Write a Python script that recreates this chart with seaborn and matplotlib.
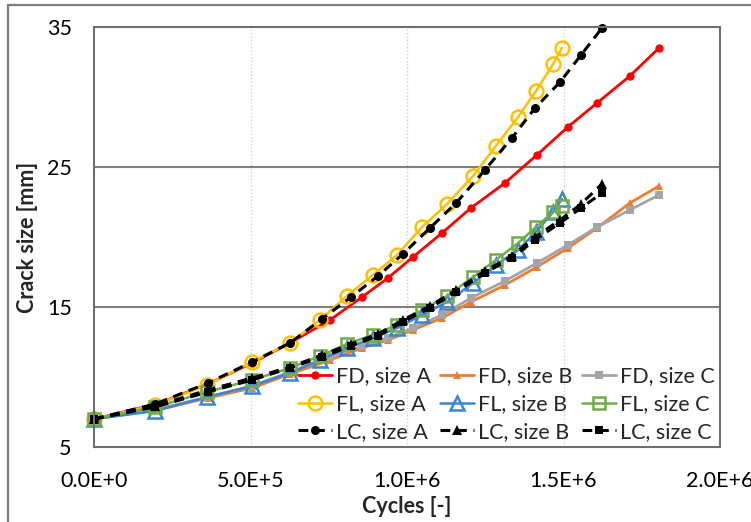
import matplotlib
matplotlib.use("Agg")
import matplotlib.pyplot as plt
from matplotlib.lines import Line2D
import seaborn as sns
import pandas as pd

# ---- data ----
fd_x = [0, 201000, 364000, 505000, 626000, 754000, 856000, 939000, 1019000,
        1112000, 1204000, 1313000, 1415000, 1514000, 1607000, 1712000, 1805000]
fd_a = [7.0, 8.07, 9.5, 11.0, 12.43, 14.07, 15.71, 17.07, 18.57, 20.29, 22.07,
        23.86, 25.86, 27.86, 29.57, 31.5, 33.5]
fd_b = [7.0, 7.64, 8.5, 9.21, 10.21, 11.21, 12.07, 12.64, 13.36, 14.21, 15.36,
        16.57, 17.86, 19.21, 20.64, 22.43, 23.64]
fd_c = [7.0, 7.71, 8.57, 9.36, 10.36, 11.43, 12.21, 12.79, 13.5, 14.43, 15.64,
        16.86, 18.14, 19.43, 20.71, 21.93, 23.0]

fl_x = [0, 195000, 361000, 505000, 626000, 722000, 808000, 891000, 968000,
        1048000, 1128000, 1211000, 1284000, 1355000, 1412000, 1467000, 1495000]
fl_a = [7.0, 8.0, 9.43, 11.07, 12.43, 14.07, 15.79, 17.29, 18.71, 20.71, 22.36,
        24.36, 26.5, 28.57, 30.43, 32.36, 33.5]
fl_b = [7.0, 7.57, 8.57, 9.36, 10.29, 11.21, 12.07, 12.79, 13.5, 14.43, 15.36,
        16.71, 18.0, 19.07, 20.36, 21.79, 22.71]
fl_c = [7.0, 7.86, 8.93, 9.79, 10.64, 11.5, 12.36, 13.0, 13.71, 14.79, 15.79,
        17.14, 18.36, 19.57, 20.71, 21.79, 22.21]

lc_x = [0, 195000, 364000, 505000, 626000, 728000, 821000, 907000, 987000,
        1073000, 1157000, 1249000, 1335000, 1409000, 1489000, 1556000, 1623000]
lc_a = [7.0, 8.07, 9.57, 11.07, 12.43, 14.14, 15.71, 17.21, 18.79, 20.64, 22.43,
        24.79, 27.07, 29.21, 31.07, 33.0, 34.93]
lc_b = [7.0, 7.93, 9.07, 9.93, 10.71, 11.57, 12.36, 13.07, 14.07, 15.07, 16.21,
        17.57, 18.64, 20.0, 21.21, 22.36, 23.79]
lc_c = [7.0, 7.86, 8.93, 9.79, 10.64, 11.43, 12.21, 12.93, 13.93, 14.93, 16.07,
        17.43, 18.5, 19.79, 21.0, 22.07, 23.14]

x_ticks = [0, 500000, 1000000, 1500000, 2000000]
x_tick_labels = ["0.0E+0", "5.0E+5", "1.0E+6", "1.5E+6", "2.0E+6"]
y_ticks = [5, 15, 25, 35]
y_tick_labels = ["5", "15", "25", "35"]

series = [
    ("FD, size A", fd_x, fd_a),
    ("FD, size B", fd_x, fd_b),
    ("FD, size C", fd_x, fd_c),
    ("FL, size A", fl_x, fl_a),
    ("FL, size B", fl_x, fl_b),
    ("FL, size C", fl_x, fl_c),
    ("LC, size A", lc_x, lc_a),
    ("LC, size B", lc_x, lc_b),
    ("LC, size C", lc_x, lc_c),
]

styles = {
    "FD, size A": dict(color="#FF0000", marker="o", ms=6, mfc="#FF0000", mec="#FF0000", mew=0, lw=2.0, ls="-"),
    "FD, size B": dict(color="#ED7D31", marker="^", ms=6, mfc="#ED7D31", mec="#ED7D31", mew=0, lw=2.0, ls="-"),
    "FD, size C": dict(color="#A5A5A5", marker="s", ms=5.5, mfc="#A5A5A5", mec="#A5A5A5", mew=0, lw=2.0, ls="-"),
    "FL, size A": dict(color="#FFC000", marker="o", ms=10, mfc="none", mec="#FFC000", mew=1.8, lw=1.8, ls="-"),
    "FL, size B": dict(color="#3A86D4", marker="^", ms=10, mfc="none", mec="#3A86D4", mew=1.8, lw=1.8, ls="-"),
    "FL, size C": dict(color="#70AD47", marker="s", ms=9, mfc="none", mec="#70AD47", mew=1.8, lw=1.8, ls="-"),
    "LC, size A": dict(color="black", marker="o", ms=6.5, mfc="black", mec="black", mew=0, lw=2.2, ls="--"),
    "LC, size B": dict(color="black", marker="^", ms=7, mfc="black", mec="black", mew=0, lw=2.2, ls="--"),
    "LC, size C": dict(color="black", marker="s", ms=6, mfc="black", mec="black", mew=0, lw=2.2, ls="--"),
}

rows = []
for name, xs, ys in series:
    for xv, yv in zip(xs, ys):
        rows.append({"series": name, "cycles": xv, "crack": yv})
df = pd.DataFrame(rows)

sns.set_style("white")
plt.rcParams["font.family"] = ["Lato", "DejaVu Sans"]

fig = plt.figure(figsize=(7.51, 5.22), dpi=100)
ax = fig.add_axes([94 / 751, 1 - 447 / 522, (720 - 94) / 751, (447 - 27) / 522])

for name, _, _ in series:
    st = styles[name]
    sub = df[df["series"] == name]
    sns.lineplot(data=sub, x="cycles", y="crack", ax=ax, label=name,
                 color=st["color"], marker=st["marker"], markersize=st["ms"],
                 markerfacecolor=st["mfc"], markeredgecolor=st["mec"],
                 markeredgewidth=st["mew"], linewidth=st["lw"], clip_on=False,
                 estimator=None, sort=False)
    line = ax.lines[-1]
    if st["ls"] == "--":
        line.set_dashes([3.2, 2.2])

ax.set_xlim(0, 2000000)
ax.set_ylim(5, 35)
ax.set_xticks(x_ticks)
ax.set_xticklabels(x_tick_labels)
ax.set_yticks(y_ticks)
ax.set_yticklabels(y_tick_labels)
ax.tick_params(axis="both", length=0, labelsize=15.5, colors="#000000")
ax.tick_params(axis="y", pad=16)
ax.tick_params(axis="x", pad=17)

# gridlines
ax.set_axisbelow(True)
for xv in x_ticks[1:-1]:
    ax.axvline(xv, color="#D0D0D0", lw=1.0, ls=(0, (1, 1.5)), zorder=0)
for yv in y_ticks[1:-1]:
    ax.axhline(yv, color="#7F7F7F", lw=1.5, zorder=0.5)

for sp in ax.spines.values():
    sp.set_color("#6F6F6F")
    sp.set_linewidth(1.5)

ax.set_xlabel("Cycles [-]", fontsize=15.5, fontweight="bold", labelpad=4)
ax.set_ylabel("Crack size [mm]", fontsize=15.5, fontweight="bold", labelpad=6)

handles, labels = ax.get_legend_handles_labels()
order = [0, 3, 6, 1, 4, 7, 2, 5, 8]
leg = ax.legend([handles[i] for i in order], [labels[i] for i in order],
                ncol=3, loc="lower right", frameon=False, fontsize=15.5,
                handlelength=1.55, handletextpad=0.2, columnspacing=0.45,
                labelspacing=0.35, borderaxespad=0.15, borderpad=0.1)

# outer chart-area border (clipped at right and bottom in the reference)
fig.add_artist(Line2D([8 / 751, 1.0], [1 - 5 / 522, 1 - 5 / 522],
                      transform=fig.transFigure, color="#7F7F7F", lw=1.6))
fig.add_artist(Line2D([8 / 751, 8 / 751], [0.0, 1 - 5 / 522],
                      transform=fig.transFigure, color="#7F7F7F", lw=1.6))

fig.savefig("out.png", dpi=100)
